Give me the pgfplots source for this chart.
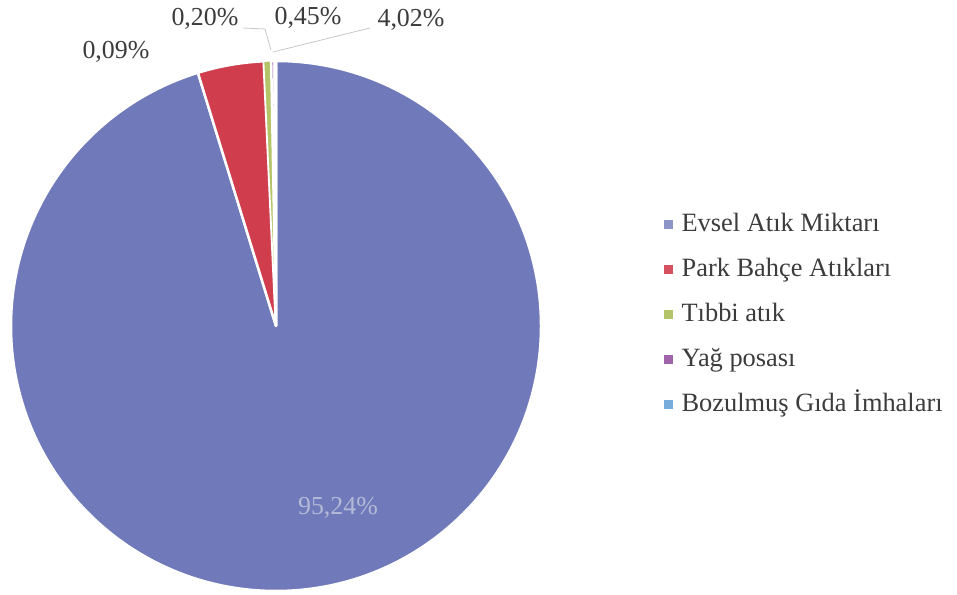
\documentclass[border=0pt]{standalone}
\usepackage{fontspec}
\setmainfont{Liberation Serif}
\usepackage{pgfplots}
\usepackage{pgfplotstable}
\pgfplotsset{compat=1.18}

\definecolor{cEvsel}{RGB}{112,122,186}
\definecolor{cPark}{RGB}{208,62,78}
\definecolor{cTibbi}{RGB}{180,196,104}
\definecolor{cYag}{RGB}{160,100,170}
\definecolor{cBoz}{RGB}{120,172,218}
\definecolor{txt}{RGB}{60,60,60}

% slice shares in percent
\pgfplotstableread{
name value
Evsel 95.24
Park 4.02
Tibbi 0.45
Yag 0.20
Bozulmus 0.09
}\piedata

\begin{document}
\fontsize{26}{30}\selectfont
\begin{tikzpicture}
% cumulative angles, clockwise from 12 o'clock
\def\acc{90}
\foreach \i in {0,...,4}{
  \pgfplotstablegetelem{\i}{value}\of\piedata
  \pgfmathsetmacro\tmp{\acc-3.6*\pgfplotsretval}
  \global\expandafter\let\csname ang\i\endcsname\acc
  \xdef\acc{\tmp}
}
\global\let\angend\acc

\begin{axis}[
    x=1bp, y=1bp,
    xmin=0, xmax=957, ymin=0, ymax=595,
    hide axis, clip=false,
    legend style={at={(axis cs:664,383)}, anchor=north west, draw=none,
        fill=none, inner sep=0pt, row sep=20bp,
        nodes={inner sep=0pt, text height=19bp, text depth=6bp, text=txt,
               font=\fontsize{26.5}{30}\selectfont}},
    legend cell align=left,
    legend image code/.code={\fill[#1] (0bp,-4bp) rectangle (8bp,4bp);},
]
\addlegendimage{cEvsel!80}
\addlegendentry{\hspace{9bp}Evsel Atık Miktarı}
\addlegendimage{cPark!90}
\addlegendentry{\hspace{9bp}Park Bahçe Atıkları}
\addlegendimage{cTibbi}
\addlegendentry{\hspace{9bp}Tıbbi atık}
\addlegendimage{cYag}
\addlegendentry{\hspace{9bp}Yağ posası}
\addlegendimage{cBoz}
\addlegendentry{\hspace{9bp}Bozulmuş Gıda İmhaları}

% slices
\fill[cEvsel, draw=white, line width=2.5bp, line join=round]
  (axis cs:276,269) -- ++(\csname ang0\endcsname:265bp)
  arc[start angle=\csname ang0\endcsname, end angle=\csname ang1\endcsname, radius=265bp] -- cycle;
\fill[cPark, draw=white, line width=2.5bp, line join=round]
  (axis cs:276,269) -- ++(\csname ang1\endcsname:265bp)
  arc[start angle=\csname ang1\endcsname, end angle=\csname ang2\endcsname, radius=265bp] -- cycle;
\fill[cTibbi, draw=white, line width=1.2bp, line join=round]
  (axis cs:276,269) -- ++(\csname ang2\endcsname:265bp)
  arc[start angle=\csname ang2\endcsname, end angle=\csname ang3\endcsname, radius=265bp] -- cycle;
\fill[cYag, draw=white, line width=2.5bp]
  (axis cs:276,269) -- ++(\csname ang3\endcsname:265bp)
  arc[start angle=\csname ang3\endcsname, end angle=\csname ang4\endcsname, radius=265bp] -- cycle;
\fill[cBoz, draw=white, line width=2.5bp]
  (axis cs:276,269) -- ++(\csname ang4\endcsname:265bp)
  arc[start angle=\csname ang4\endcsname, end angle=\angend, radius=265bp] -- cycle;

% leader lines
\draw[black!22, line width=0.8bp] (axis cs:243,567) -- (axis cs:265,566) -- (axis cs:271,545);
\draw[black!22, line width=0.8bp] (axis cs:370,567) -- (axis cs:273,543);

% data labels
\node[text=txt] at (axis cs:205,576) {0,20\%};
\node[text=txt] at (axis cs:308,577) {0,45\%};
\node[text=txt] at (axis cs:411,575) {4,02\%};
\node[text=txt] at (axis cs:116,543) {0,09\%};
\node[text={rgb,255:red,180;green,185;blue,215}] at (axis cs:338,87) {95,24\%};
\end{axis}
\pgfresetboundingbox
\path (current axis.south west) rectangle (current axis.north east);
\end{tikzpicture}
\end{document}
